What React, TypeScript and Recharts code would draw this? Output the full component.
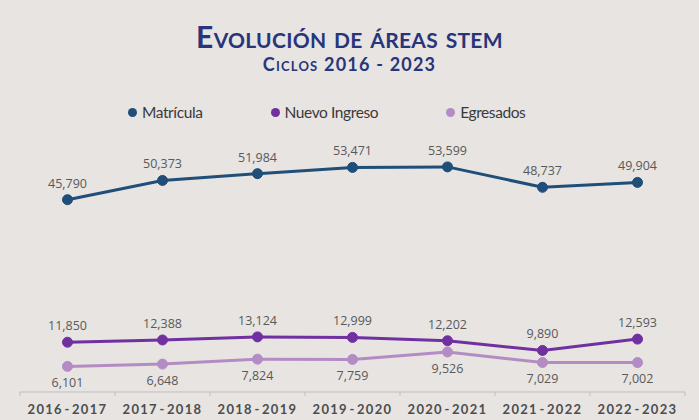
import React from 'react';
import { LineChart, Line, XAxis, YAxis, LabelList } from 'recharts';

const CICLOS = ['2016 - 2017', '2017 - 2018', '2018 - 2019', '2019 - 2020', '2020 - 2021', '2021 - 2022', '2022 - 2023'];
const MATRICULA = [45790, 50373, 51984, 53471, 53599, 48737, 49904];
const NUEVO_INGRESO = [11850, 12388, 13124, 12999, 12202, 9890, 12593];
const EGRESADOS = [6101, 6648, 7824, 7759, 9526, 7029, 7002];

const COLORS = {
  matricula: '#1f4e79',
  nuevo: '#7030a0',
  egresados: '#b48cc4',
};

const BG = '#e7e4e2';
const WIDTH = 699;
const HEIGHT = 420;
const MARGIN = { top: 140, right: 14, bottom: 0, left: 20 };
const BAND = (WIDTH - MARGIN.left - MARGIN.right) / CICLOS.length;

const data = CICLOS.map((ciclo, i) => ({
  ciclo,
  matricula: MATRICULA[i],
  nuevo: NUEVO_INGRESO[i],
  egresados: EGRESADOS[i],
}));

const fmt = (v: any) => Number(v).toLocaleString('en-US');

const labelStyle = {
  fontFamily: '"Liberation Sans Narrow", "Open Sans", sans-serif',
  fontSize: 12.5,
  fill: '#595959',
};

// category label at band centre, tick marks at band edges
function CicloTick(props: any) {
  const { x, y, payload, index } = props;
  const last = index === CICLOS.length - 1;
  return (
    <g>
      <line x1={x - BAND / 2} x2={x - BAND / 2} y1={y - 8} y2={y - 4} stroke="#bfbfbf" />
      {last && <line x1={x + BAND / 2} x2={x + BAND / 2} y1={y - 8} y2={y - 4} stroke="#bfbfbf" />}
      <text
        x={x}
        y={y + 14}
        textAnchor="middle"
        fontFamily="Lato, sans-serif"
        fontWeight={700}
        fontSize={13}
        letterSpacing={1.3}
        wordSpacing={-3}
        fill="#4d4d4d"
      >
        {payload.value}
      </text>
    </g>
  );
}

const legendItems = [
  { name: 'Matrícula', color: COLORS.matricula },
  { name: 'Nuevo Ingreso', color: COLORS.nuevo },
  { name: 'Egresados', color: COLORS.egresados },
];

export default function App() {
  return (
    <div style={{ position: 'absolute', left: 0, top: 0, width: WIDTH, height: HEIGHT, background: BG, overflow: 'hidden' }}>
      <div
        style={{
          position: 'absolute',
          top: 19,
          left: 0,
          width: WIDTH,
          textAlign: 'center',
          fontFamily: 'Lato, sans-serif',
          fontWeight: 700,
          fontVariant: 'small-caps',
          color: '#27357a',
          fontSize: 30,
          lineHeight: '34px',
          letterSpacing: 0.3,
        }}
      >
        Evolución de áreas stem
      </div>
      <div
        style={{
          position: 'absolute',
          top: 53,
          left: 0,
          width: WIDTH,
          textAlign: 'center',
          fontFamily: 'Lato, sans-serif',
          fontWeight: 700,
          fontVariant: 'small-caps',
          color: '#27357a',
          fontSize: 18,
          lineHeight: '22px',
          letterSpacing: 1.2,
        }}
      >
        Ciclos 2016 - 2023
      </div>
      <div
        style={{
          position: 'absolute',
          top: 102,
          left: 128,
          display: 'flex',
          gap: 68,
          fontFamily: 'Lato, sans-serif',
          fontSize: 15.5,
          color: '#3a3a3a',
          letterSpacing: -0.4,
          lineHeight: '20px',
        }}
      >
        {legendItems.map((it) => (
          <div key={it.name} style={{ display: 'flex', alignItems: 'center' }}>
            <span style={{ width: 9, height: 9, borderRadius: '50%', background: it.color, marginRight: 5 }} />
            {it.name}
          </div>
        ))}
      </div>
      <div style={{ position: 'absolute', left: 0, top: 0 }}>
        <LineChart width={WIDTH} height={HEIGHT} data={data} margin={MARGIN}>
          <XAxis
            dataKey="ciclo"
            height={28}
            axisLine={{ stroke: '#bfbfbf' }}
            tickLine={false}
            interval={0}
            padding={{ left: BAND / 2, right: BAND / 2 }}
            tick={<CicloTick />}
          />
          <YAxis hide domain={[0, 60000]} />
          <Line
            dataKey="matricula"
            stroke={COLORS.matricula}
            strokeWidth={3}
            dot={{ r: 5, fill: COLORS.matricula, stroke: COLORS.matricula, strokeWidth: 1 }}
            isAnimationActive={false}
          >
            <LabelList dataKey="matricula" position="top" offset={12} formatter={fmt} style={labelStyle} />
          </Line>
          <Line
            dataKey="nuevo"
            stroke={COLORS.nuevo}
            strokeWidth={3}
            dot={{ r: 5, fill: COLORS.nuevo, stroke: COLORS.nuevo, strokeWidth: 1 }}
            isAnimationActive={false}
          >
            <LabelList dataKey="nuevo" position="top" offset={12} formatter={fmt} style={labelStyle} />
          </Line>
          <Line
            dataKey="egresados"
            stroke={COLORS.egresados}
            strokeWidth={3}
            dot={{ r: 5, fill: COLORS.egresados, stroke: COLORS.egresados, strokeWidth: 1 }}
            isAnimationActive={false}
          >
            <LabelList dataKey="egresados" position="bottom" offset={12} formatter={fmt} style={labelStyle} />
          </Line>
        </LineChart>
      </div>
    </div>
  );
}
